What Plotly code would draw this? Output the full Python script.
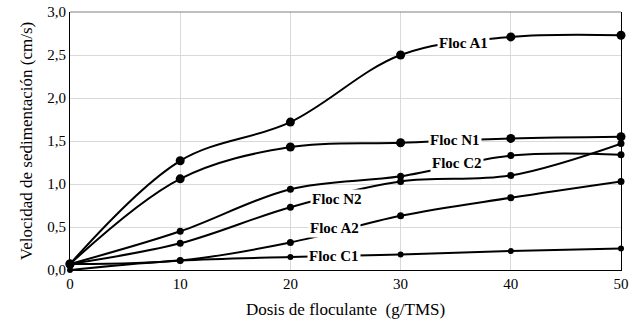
import plotly.graph_objects as go

dosis = [0, 10, 20, 30, 40, 50]
floc_a1 = [0.07, 1.27, 1.72, 2.50, 2.71, 2.73]
floc_n1 = [0.07, 1.06, 1.43, 1.48, 1.53, 1.55]
floc_c2 = [0.07, 0.45, 0.94, 1.09, 1.33, 1.34]
floc_n2 = [0.07, 0.31, 0.73, 1.03, 1.10, 1.47]
floc_a2 = [0.07, 0.11, 0.32, 0.63, 0.84, 1.03]
floc_c1 = [0.00, 0.11, 0.15, 0.18, 0.22, 0.25]

series = [
    ("Floc A1", floc_a1, 9),
    ("Floc N1", floc_n1, 9),
    ("Floc C2", floc_c2, 7),
    ("Floc N2", floc_n2, 7),
    ("Floc A2", floc_a2, 7),
    ("Floc C1", floc_c1, 6),
]
# label positions (x, y in data units)
label_x = [35.7, 34.9, 35.1, 24.2, 24.0, 24.0]
label_y = [2.64, 1.51, 1.24, 0.82, 0.49, 0.16]

SERIF = "Liberation Serif, Times New Roman, serif"

fig = go.Figure()
for name, vals, msize in series:
    fig.add_trace(go.Scatter(
        x=dosis, y=vals, name=name, mode="lines+markers",
        line=dict(color="black", width=2, shape="spline", smoothing=1.0),
        marker=dict(color="black", size=msize),
        showlegend=False, cliponaxis=False,
    ))

for (name, _, _), lx, ly in zip(series, label_x, label_y):
    fig.add_annotation(
        x=lx, y=ly, text="<b>" + name + "</b>", showarrow=False,
        bgcolor="white", borderpad=1,
        font=dict(family=SERIF, size=15, color="black"),
    )

fig.update_layout(
    width=629, height=329,
    margin=dict(l=70, r=8, t=12, b=59),
    paper_bgcolor="white", plot_bgcolor="white",
    separators=",.",
    font=dict(family=SERIF, size=15, color="black"),
    xaxis=dict(
        range=[0, 50], tickvals=[0, 10, 20, 30, 40, 50],
        tickfont=dict(family=SERIF, size=15),
        showgrid=True, gridcolor="#d9d9d9", gridwidth=1,
        showline=True, linecolor="black", linewidth=1,
        zeroline=False, ticks="", ticklen=0, automargin=False,
        title=dict(text="Dosis de floculante  (g/TMS)", font=dict(family=SERIF, size=17), standoff=12),
    ),
    yaxis=dict(
        range=[0, 3.0], tickvals=[0, 0.5, 1.0, 1.5, 2.0, 2.5, 3.0],
        tickformat=".1f", tickfont=dict(family=SERIF, size=15),
        showgrid=True, gridcolor="#d9d9d9", gridwidth=1,
        showline=True, linecolor="black", linewidth=1, mirror=True,
        zeroline=False, ticks="", ticklen=0, automargin=False,
        title=dict(text="Velocidad de sedimentación (cm/s)", font=dict(family=SERIF, size=17), standoff=10),
    ),
)
fig.add_shape(type="line", xref="paper", yref="paper", x0=0, x1=1, y0=1, y1=1,
              line=dict(color="#808080", width=1))

fig.write_html("out.html", config={"displayModeBar": False},
               post_script="document.body.style.margin='0px';document.body.style.overflow='hidden';")
